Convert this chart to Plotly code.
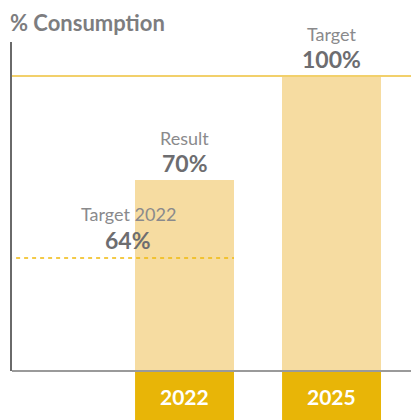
import plotly.graph_objects as go

# Datos
anios = ["2022", "2025"]
posiciones = [0, 1]
alturas_barras = [64.7, 100]          # altura dibujada (escala del gráfico)
etiquetas_titulo = ["Result", "Target"]
etiquetas_valor = ["70%", "100%"]
objetivo_2022_altura = 38.3
objetivo_2022_titulo = "Target 2022"
objetivo_2022_valor = "64%"
objetivo_final = 100

COLOR_BARRA = "#F6DCA1"
COLOR_CAJA = "#E8B507"
COLOR_LINEA = "#F2D06B"
COLOR_DASH = "#F0B90C"
GRIS_TEXTO = "#8a8a8c"
GRIS_VALOR = "#6d6d70"
FUENTE = "Lato"

fig = go.Figure()

fig.add_trace(go.Bar(
    x=posiciones,
    y=alturas_barras,
    width=0.673,
    marker=dict(color=COLOR_BARRA, line=dict(width=0)),
    hoverinfo="skip",
    showlegend=False,
))

# Línea objetivo 2025 (sólida)
fig.add_trace(go.Scatter(
    x=[-1.2, 1.7],
    y=[objetivo_final, objetivo_final],
    mode="lines",
    line=dict(color=COLOR_LINEA, width=2),
    hoverinfo="skip",
    showlegend=False,
))

# Línea objetivo 2022 (discontinua)
fig.add_trace(go.Scatter(
    x=[-1.2, posiciones[0] + 0.3365],
    y=[objetivo_2022_altura, objetivo_2022_altura],
    mode="lines",
    line=dict(color=COLOR_DASH, width=1.3, dash="4px,4px"),
    hoverinfo="skip",
    showlegend=False,
))

# Etiquetas sobre las barras
for xi, h, t, v in zip(posiciones, alturas_barras, etiquetas_titulo, etiquetas_valor):
    fig.add_annotation(x=xi, y=h, yshift=42, text=t, showarrow=False,
                       font=dict(family=FUENTE, size=18, color=GRIS_TEXTO))
    fig.add_annotation(x=xi, y=h, yshift=17, text=f"<b>{v}</b>", showarrow=False,
                       font=dict(family=FUENTE, size=23, color=GRIS_VALOR))

fig.add_annotation(x=-0.384, y=objetivo_2022_altura, yshift=44, text=objetivo_2022_titulo,
                   showarrow=False, font=dict(family=FUENTE, size=18, color=GRIS_TEXTO))
fig.add_annotation(x=-0.384, y=objetivo_2022_altura, yshift=18, text=f"<b>{objetivo_2022_valor}</b>",
                   showarrow=False, font=dict(family=FUENTE, size=23, color=GRIS_VALOR))

# Cajas de año debajo del eje
for xi, a in zip(posiciones, anios):
    fig.add_shape(type="rect", xref="x", yref="paper",
                  x0=xi - 0.3365, x1=xi + 0.3365, y0=0, y1=-0.2,
                  fillcolor=COLOR_CAJA, line=dict(width=0), layer="above")
    fig.add_annotation(x=xi, xref="x", y=-0.079, yref="paper", yanchor="middle",
                       text=f"<b>{a}</b>", showarrow=False,
                       font=dict(family=FUENTE, size=21, color="white"))

fig.add_annotation(x=0, xref="paper", xanchor="left", xshift=-3,
                   y=1 + 34 / 329, yref="paper", yanchor="top", borderpad=0,
                   text="<b>% Consumption</b>", showarrow=False,
                   font=dict(family=FUENTE, size=22, color="#7d7d7f"))

fig.update_layout(
    width=419, height=420,
    margin=dict(l=4, r=8, t=34, b=57),
    plot_bgcolor="white", paper_bgcolor="white",
    xaxis=dict(range=[-1.1735, 1.595], showgrid=False, zeroline=False,
               showticklabels=False, showline=False, fixedrange=True),
    yaxis=dict(range=[0, 111.5], showgrid=False, zeroline=False,
               showticklabels=False, showline=True, linecolor="#6a6a6a",
               linewidth=1.5, fixedrange=True),
    bargap=0,
)

# Línea base del eje X
fig.add_shape(type="line", xref="paper", yref="paper", x0=0, x1=1, y0=0, y1=0,
              line=dict(color="#9a9a9a", width=2))

fig.write_html("out.html")
